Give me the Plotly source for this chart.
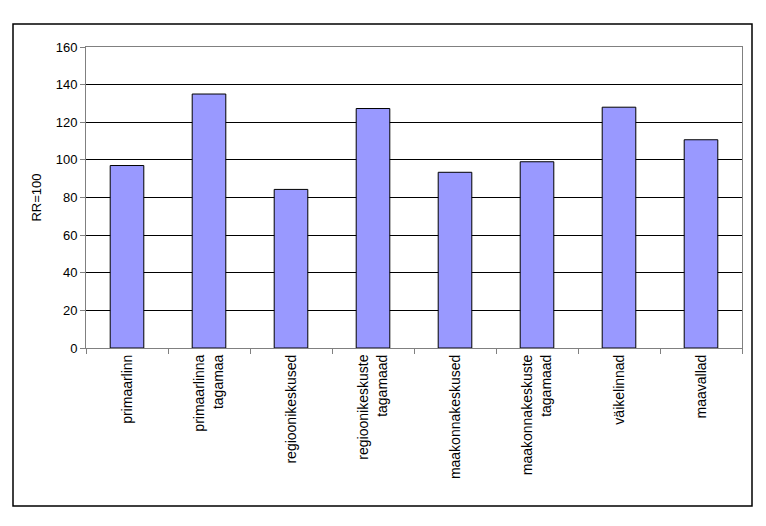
import plotly.graph_objects as go

categories = ["primaarlinn", "primaarlinna<br>tagamaa", "regioonikeskused",
              "regioonikeskuste<br>tagamaad", "maakonnakeskused",
              "maakonnakeskuste<br>tagamaad", "väikelinnad", "maavallad"]
values = [97, 135, 84.3, 127.3, 93.4, 99, 128, 110.7]
y_ticks = [0, 20, 40, 60, 80, 100, 120, 140, 160]

# page body has an 8px margin; figure coordinates are offset by 8px
OFF = 8
W, H = 750, 510
L, R, T, B = 86 - OFF, 742 - OFF, 47 - OFF, 348 - OFF

fig = go.Figure(go.Bar(
    x=categories, y=values,
    marker=dict(color="#9999FF", line=dict(color="#000000", width=1)),
    width=0.41,
))

ff = "Liberation Sans, Arial, sans-serif"
yfont = dict(family=ff, size=13, color="#000000")
xfont = dict(family=ff, size=14, color="#000000")

fig.update_layout(
    width=W, height=H,
    margin=dict(l=L, r=W - R, t=T, b=H - B, pad=0),
    paper_bgcolor="white", plot_bgcolor="white",
    font=yfont,
    showlegend=False,
    xaxis=dict(
        type="category", tickangle=-90, tickson="boundaries",
        ticks="outside", ticklen=5, tickcolor="#808080",
        showline=True, linecolor="#808080", linewidth=1, mirror=True,
        showgrid=False, tickfont=xfont,
    ),
    yaxis=dict(
        range=[0, 160], tickvals=y_ticks, ticks="outside", ticklen=5,
        tickcolor="#808080", showline=True, linecolor="#808080", linewidth=1,
        mirror=True, showgrid=True, gridcolor="#000000", gridwidth=1,
        zeroline=False, tickfont=yfont,
        title=dict(text="RR=100", font=yfont, standoff=11),
    ),
    shapes=[dict(
        type="rect", xref="paper", yref="paper",
        x0=(13 - OFF - L) / (R - L), x1=(752 - OFF - L) / (R - L),
        y0=(B - (506 - OFF)) / (B - T), y1=(B - (24 - OFF)) / (B - T),
        line=dict(color="#000000", width=1.5), fillcolor="rgba(0,0,0,0)",
        layer="below",
    )],
)

fig.write_html("out.html")
